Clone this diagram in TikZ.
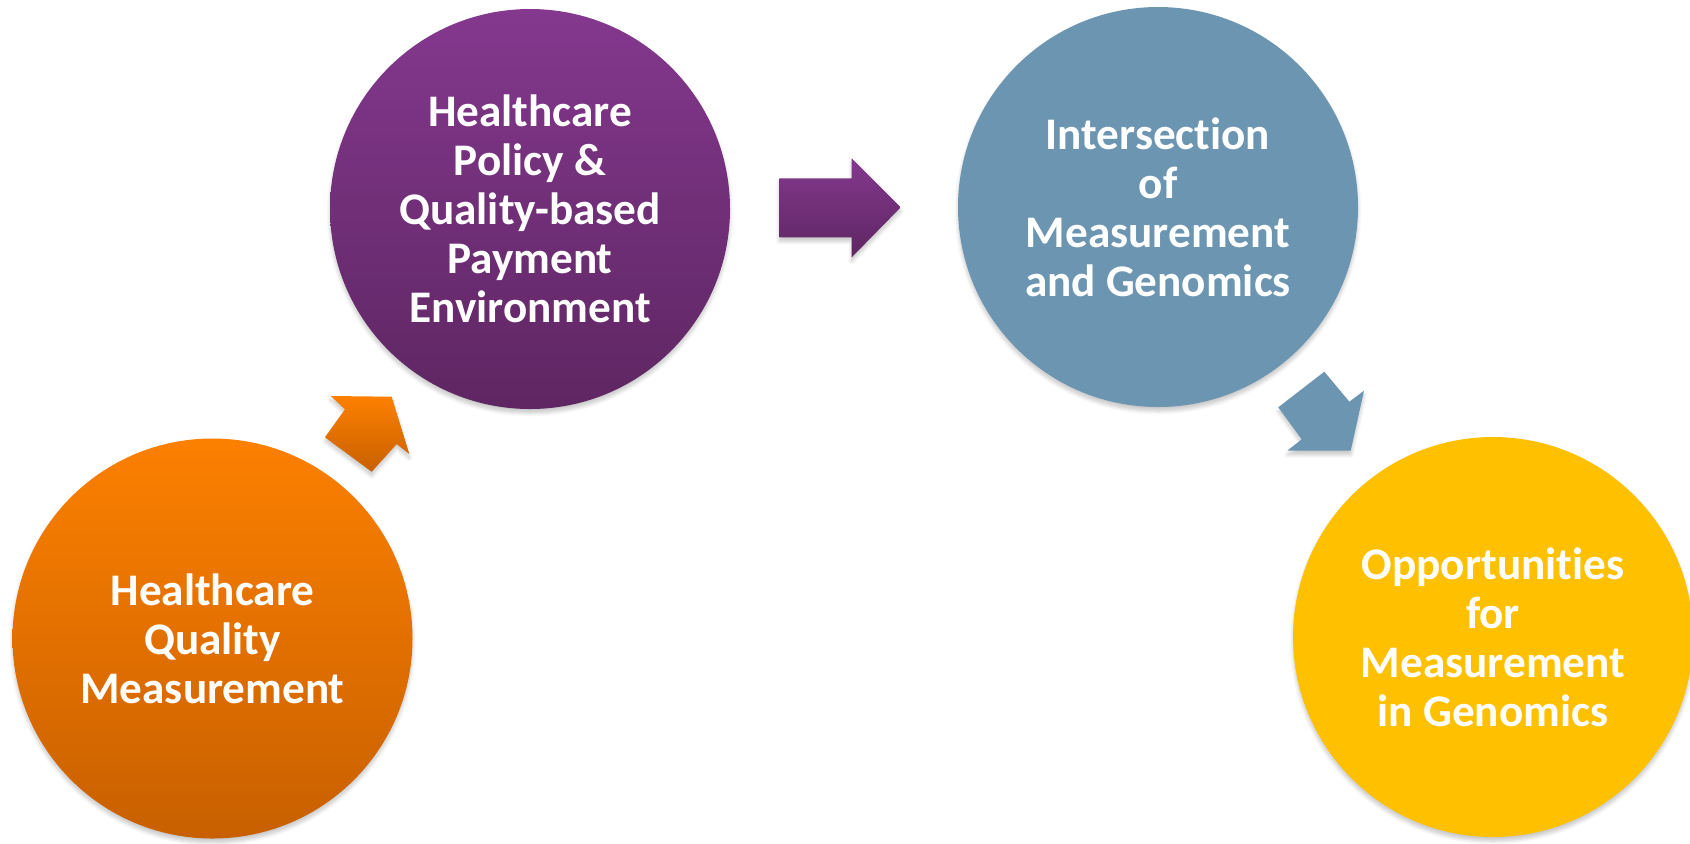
\documentclass[tikz,border=0pt]{standalone}
\usepackage{fontspec}
\setmainfont{Carlito}[Ligatures={NoCommon}]
\usetikzlibrary{shadows.blur}
\definecolor{orA}{RGB}{252,128,0}
\definecolor{orB}{RGB}{200,96,0}
\definecolor{puA}{RGB}{132,56,142}
\definecolor{puB}{RGB}{94,38,98}
\definecolor{blu}{RGB}{108,149,178}
\definecolor{yel}{RGB}{255,192,0}
\begin{document}
\begin{tikzpicture}[x=0.5pt,y=-0.5pt,
  softshadow/.style={blur shadow={shadow xshift=0pt, shadow yshift=-2pt, shadow blur steps=6, shadow opacity=22}},
  stage/.style={circle, minimum size=200pt, inner sep=0pt, text=white,
    font=\bfseries\fontsize{22.6}{24.5}\selectfont, align=center, softshadow},
  blockarrow/.style={softshadow}]
\useasboundingbox (0,0) rectangle (1690,843);

% circles
\node[stage, top color=orA, bottom color=orB] (hqm) at (212.5,638.5)
  {Healthcare\\Quality\\Measurement};
\node[stage, top color=puA, bottom color=puB] (pol) at (530,209)
  {Healthcare\\Policy \&\\Quality-based\\Payment\\Environment};
\node[stage, fill=blu] (int) at (1158,207)
  {Intersection\\of\\Measurement\\and Genomics};
\node[stage, fill=yel] (opp) at (1493,637)
  {Opportunities\\for\\Measurement\\in Genomics};

% orange arrow (up-right)
\coordinate (oTip) at (391.7,396.7);
\coordinate (oB2) at (409.3,454);
\coordinate (oJ2) at (396.7,444);
\coordinate (oT2) at (371.7,471.7);
\coordinate (oT1) at (325,437.3);
\coordinate (oJ1) at (345,409.3);
\coordinate (oB1) at (330.7,396);
\path[blockarrow, top color=orA, bottom color=orB]
  (oTip) -- (oB2) -- (oJ2) -- (oT2) -- (oT1) -- (oJ1) -- (oB1) -- cycle;

% purple arrow (right)
\coordinate (pT1) at (779.3,178.3);
\coordinate (pJ1) at (851.7,178.3);
\coordinate (pB1) at (851.7,158.3);
\coordinate (pTip) at (900.7,207.3);
\coordinate (pB2) at (851.7,257.3);
\coordinate (pJ2) at (851.7,237.3);
\coordinate (pT2) at (779.3,237.3);
\path[blockarrow, top color=puA, bottom color=puB]
  (pT1) -- (pJ1) -- (pB1) -- (pTip) -- (pB2) -- (pJ2) -- (pT2) -- cycle;

% blue arrow (down-right)
\coordinate (bT1) at (1324.3,371.7);
\coordinate (bJ1) at (1349.3,401.7);
\coordinate (bB1) at (1364,390.7);
\coordinate (bTip) at (1350.7,450.7);
\coordinate (bB2) at (1287.3,450.7);
\coordinate (bJ2) at (1301.7,439.3);
\coordinate (bT2) at (1278.3,407.3);
\path[blockarrow, fill=blu]
  (bT1) -- (bJ1) -- (bB1) -- (bTip) -- (bB2) -- (bJ2) -- (bT2) -- cycle;
\end{tikzpicture}
\end{document}
